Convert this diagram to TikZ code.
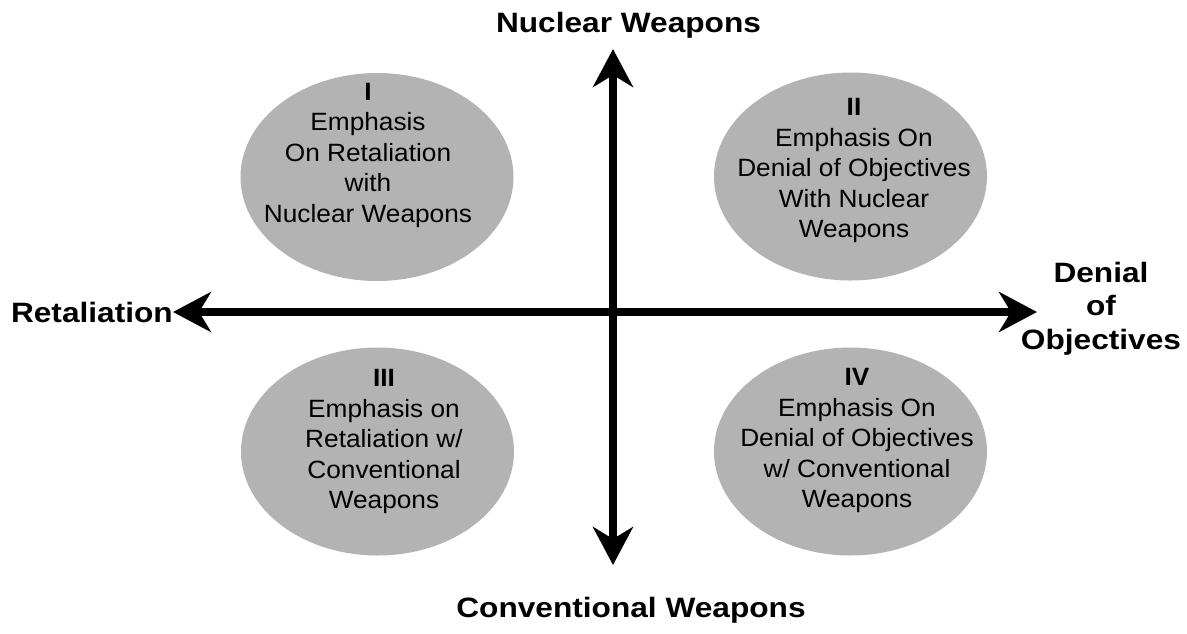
\documentclass[tikz,border=0pt]{standalone}
\usepackage{fontspec}
\usepackage{xcolor}
\usetikzlibrary{shapes.geometric,arrows.meta,positioning}

\newfontfamily\quadfont[FakeStretch=1.05]{Liberation Sans}
\newfontfamily\axisfont[FakeStretch=1.13]{Liberation Sans}
\definecolor{quadgray}{HTML}{B3B3B3}

\tikzset{
  quad/.style={ellipse, fill=quadgray, draw=none, inner sep=0pt, minimum width=273pt, minimum height=208pt},
  quadtext/.style={inner sep=0pt, align=center, font=\quadfont\fontsize{25}{30.5}\selectfont},
  axislabel/.style={inner sep=0pt, align=center, font=\axisfont\bfseries\fontsize{28}{33.5}\selectfont},
  axis/.style={line width=8pt, {Stealth[length=38pt,width=40pt,inset=12pt]}-{Stealth[length=38pt,width=40pt,inset=12pt]}}
}

\begin{document}
\begin{tikzpicture}[x=1pt, y=-1pt]
				\useasboundingbox (0,0) rectangle (1187,633);
				
				\node[quad] (quadI) at (377,177) {};
				\node[quad] (quadII) at (850.5,176.5) {};
				\node[quad] (quadIII) at (377.5,451.5) {};
				\node[quad] (quadIV) at (850.5,451.5) {};
				
				\node[quadtext, below=10pt of quadI.north, xshift=-9pt] (textI) {\textbf{I}\\Emphasis\\On Retaliation\\with\\Nuclear Weapons};
				\node[quadtext, below=26pt of quadII.north, xshift=3.5pt] (textII) {\textbf{II}\\Emphasis On\\Denial of Objectives\\With Nuclear\\Weapons};
				\node[quadtext, below=22pt of quadIII.north, xshift=6.5pt] (textIII) {\textbf{III}\\Emphasis on\\Retaliation w/\\Conventional\\Weapons};
				\node[quadtext, below=21pt of quadIV.north, xshift=6.5pt] (textIV) {\textbf{IV}\\Emphasis On\\Denial of Objectives\\w/ Conventional\\Weapons};
				
				\coordinate (leftend) at (173,312);
				\coordinate (rightend) at (1037,312);
				\coordinate (topend) at (613,49);
				\coordinate (bottomend) at (613,565);
				
				\draw[axis] (leftend) -- (rightend);
				\draw[axis] (topend) -- (bottomend);
				
				\node[axislabel, above=10pt of topend, xshift=15.5pt] (nuclear) {Nuclear Weapons};
				\node[axislabel, below=32pt of bottomend, xshift=18pt] (conventional) {Conventional Weapons};
				\node[axislabel, left=0pt of leftend] (retaliation) {Retaliation};
				\node[axislabel, anchor=north] (denial) at (1101,262) {Denial\\of\\Objectives};
			\end{tikzpicture}
\end{document}
